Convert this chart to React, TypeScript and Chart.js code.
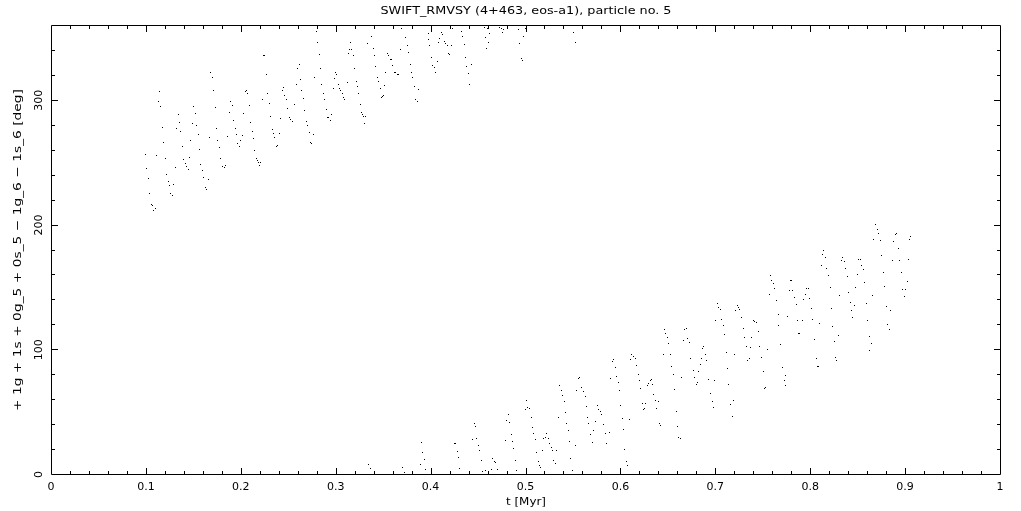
import React, { useEffect, useRef } from "react";
import { Chart, registerables } from "chart.js";

Chart.register(...registerables);

const TITLE = "SWIFT_RMVSY (4+463, eos-a1), particle no. 5";
const X_TITLE = "t [Myr]";
const Y_TITLE = "+ 1g + 1s + 0g_5 + 0s_5 − 1g_6 − 1s_6 [deg]";

const X_MIN = 0;
const X_MAX = 1;
const Y_MIN = 0;
const Y_MAX = 360;
const X_MAJOR_TICKS = [0, 0.1, 0.2, 0.3, 0.4, 0.5, 0.6, 0.7, 0.8, 0.9, 1];
const X_TICK_LABELS = ["0", "0.1", "0.2", "0.3", "0.4", "0.5", "0.6", "0.7", "0.8", "0.9", "1"];
const Y_MAJOR_TICKS = [0, 100, 200, 300];
const Y_TICK_LABELS = ["0", "100", "200", "300"];
const X_MINOR_STEP = 0.02;
const Y_MINOR_STEP = 20;

// upper branch of the wrapped angle (t in Myr, angle in deg)
const upperT = [
  0.0994, 0.1005, 0.1026, 0.1036, 0.1057, 0.1068, 0.1078, 0.1099, 0.111, 0.1131, 0.1142, 0.1159, 0.1173, 0.1184, 0.1205, 0.1215, 0.1233, 0.1247, 0.1264, 0.1278, 0.1289,
  0.131, 0.132, 0.1342, 0.1352, 0.1363, 0.1384, 0.1394, 0.1415, 0.1426, 0.1447, 0.1457, 0.1468, 0.1489, 0.1499, 0.1521, 0.1531, 0.1552, 0.1563, 0.1573, 0.1594, 0.1605, 0.1626, 0.1636, 0.1658,
  0.1668, 0.1679, 0.17, 0.171, 0.1731, 0.1742, 0.1752, 0.1773, 0.1784, 0.1805, 0.1826, 0.1837, 0.1858, 0.1879, 0.1889, 0.191, 0.1921, 0.1942, 0.1953, 0.1963, 0.1984, 0.1995, 0.2016, 0.2026,
  0.2047, 0.2058, 0.2068, 0.209, 0.21, 0.2121, 0.2132, 0.2142, 0.2163, 0.2174, 0.2184, 0.2195, 0.2205,
  0.2227, 0.2237, 0.2248, 0.2269, 0.2279, 0.23, 0.2311, 0.2332, 0.2342, 0.2353, 0.2374, 0.2385, 0.2406, 0.2416,
  0.2437, 0.2448, 0.2458, 0.2479, 0.249, 0.2511, 0.2522, 0.2543, 0.2564, 0.2585, 0.2595, 0.2616, 0.2627, 0.2638, 0.2659, 0.2669, 0.269, 0.2701, 0.2722, 0.2732, 0.2743, 0.2764,
  0.2775, 0.2796, 0.2806, 0.2827, 0.2838, 0.2848, 0.2869, 0.288, 0.2901, 0.2911, 0.2922, 0.2943, 0.2954, 0.2975, 0.2985, 0.2996, 0.3006, 0.3027, 0.3038, 0.3048, 0.307, 0.308, 0.3091, 0.3122,
  0.3133, 0.3143, 0.3154, 0.3164, 0.3185, 0.3196, 0.3217, 0.3228, 0.3238, 0.3259, 0.327, 0.328, 0.3291, 0.3301, 0.3312,
  0.3333, 0.3375, 0.3396, 0.3407, 0.3417, 0.3438, 0.3449, 0.347, 0.348, 0.3491, 0.3501, 0.3512, 0.3523, 0.3544, 0.3554, 0.3575, 0.3586, 0.3596, 0.3617, 0.3628, 0.3649, 0.366,
  0.3681, 0.3691, 0.3733, 0.3754, 0.3765, 0.3786, 0.3797, 0.3807, 0.3828, 0.3839, 0.386, 0.387,
  0.3976, 0.3976, 0.3986, 0.4007, 0.4018, 0.4039, 0.4049, 0.4071, 0.4081, 0.4092, 0.4113, 0.4123, 0.4144, 0.4155, 0.4176, 0.4187, 0.4197, 0.4218,
  0.4208, 0.4229, 0.4323, 0.4334, 0.4355, 0.4366, 0.4376, 0.4397, 0.4408, 0.4429,
  0.4566, 0.4576, 0.4587, 0.4597, 0.4608, 0.4619, 0.4724, 0.4745, 0.4755, 0.4766, 0.4924, 0.4935, 0.4956, 0.4966, 0.4977, 0.4998, 0.5501, 0.5522,
];
const upperAngle = [
  256.3, 245.1, 237.1, 225.0, 216.2, 214.9, 210.9, 213.0, 255.5, 298.8, 306.8, 294.3, 278.0, 265.9, 253.1, 240.3, 234.9, 231.4, 225.0, 223.4, 232.2,
  245.9, 277.1, 288.4, 282.0, 274.7, 262.7, 252.3, 249.1, 246.4, 244.3, 253.9, 267.5, 281.2, 294.8, 289.2, 279.6, 272.3, 260.3, 248.3, 243.5, 237.9, 229.8, 228.2, 236.3,
  269.9, 322.0, 318.0, 307.6, 294.0, 277.1, 267.5, 261.9, 253.1, 246.7, 245.9, 247.5, 270.7, 290.0, 298.8, 295.6, 283.6, 277.1, 272.3, 265.1, 262.7, 267.5, 271.5, 289.2,
  306.8, 307.6, 305.2, 295.6, 282.0, 274.7, 269.1, 259.5, 253.1, 251.5, 249.9, 247.5, 249.9,
  300.4, 335.7, 335.7, 320.4, 305.2, 297.2, 286.8, 276.3, 273.1, 269.9, 262.7, 263.5, 273.1, 285.2,
  307.6, 310.0, 303.6, 300.4, 293.2, 286.0, 284.4, 282.8, 296.4, 312.4, 325.3, 328.5, 316.4, 307.6, 301.2, 291.6, 282.8, 279.6, 273.9, 265.9, 265.1, 272.3,
  318.0, 354.9, 346.1, 336.5, 325.3, 312.4, 305.2, 300.4, 292.4, 286.0, 286.0, 283.6, 288.4, 309.2, 317.2, 322.0, 320.4, 312.4, 309.2, 307.6, 305.2, 302.0, 300.4, 314.0,
  337.3, 340.5, 346.1, 340.5, 335.7, 325.3, 314.8, 310.8, 305.2, 296.4, 290.0, 288.4, 286.8, 281.2, 286.8,
  345.3, 350.9, 341.3, 335.7, 326.9, 318.0, 314.8, 309.2, 302.0, 302.8, 303.6, 311.6, 322.0, 337.3, 335.7, 332.5, 332.5, 327.7, 322.0, 322.0, 320.4, 320.4,
  340.5, 357.3, 350.1, 343.7, 338.1, 328.5, 322.0, 318.0, 310.8, 300.4, 298.8, 308.4,
  353.3, 348.5, 343.7, 334.1, 327.7, 326.1, 322.0, 330.9, 346.1, 349.3, 354.1, 352.5, 346.9, 345.3, 343.7, 337.3, 336.5, 343.7,
  357.3, 357.3, 354.9, 350.9, 344.5, 334.1, 326.9, 321.2, 312.4, 328.5,
  358.1, 350.1, 341.3, 357.3, 346.1, 353.3, 358.1, 357.3, 354.1, 356.5, 356.5, 345.3, 333.3, 331.7, 350.9, 357.3, 353.6, 345.6,
];

// lower branch (angle wrapped past 360 deg)
const lowerT = [
  0.3345, 0.3365, 0.3702, 0.3722, 0.3892, 0.3904, 0.3916, 0.3932, 0.3944,
  0.4249, 0.4261, 0.4281, 0.4293, 0.4305,
  0.4439, 0.4459, 0.4471, 0.4484, 0.4503, 0.4515, 0.4535, 0.4547, 0.4579,
  0.4638, 0.465, 0.467, 0.4686, 0.471,
  0.4785, 0.4801, 0.4817, 0.4833, 0.4849, 0.4868, 0.4876, 0.4892, 0.4904,
  0.4995, 0.5007, 0.5023, 0.5039, 0.5063, 0.5075, 0.5086, 0.5102, 0.5114, 0.5134, 0.5145, 0.5158,
  0.5181, 0.5194, 0.521, 0.5225, 0.5241, 0.5253, 0.5269, 0.528, 0.53, 0.5312, 0.5325,
  0.5345, 0.536, 0.5376, 0.5392, 0.5408, 0.5419, 0.5431, 0.5451, 0.5459, 0.5471, 0.5491, 0.5527,
  0.5538, 0.5558, 0.5574, 0.559, 0.5606, 0.563, 0.5642, 0.5658, 0.5669, 0.5685, 0.5701, 0.5717, 0.5741, 0.5757, 0.5772, 0.5788, 0.5804, 0.582, 0.5844, 0.5856, 0.588,
  0.5896, 0.5916, 0.5932, 0.5947, 0.5963, 0.5975, 0.5991, 0.6003, 0.6019, 0.6035, 0.6046, 0.6066, 0.6074, 0.6098,
  0.6102, 0.6122, 0.6138, 0.6154, 0.617, 0.6186, 0.6201, 0.6217, 0.6233, 0.6245, 0.6257, 0.6269, 0.6285, 0.6296, 0.6312, 0.6324, 0.634, 0.6352, 0.6372, 0.6384, 0.6399, 0.6415, 0.6427,
  0.6455, 0.6463, 0.6478, 0.6494, 0.6511, 0.6523, 0.6538, 0.6558, 0.6566, 0.659, 0.6602, 0.6614, 0.6629, 0.6646,
  0.6662, 0.6678, 0.6693, 0.6709, 0.6725, 0.6741, 0.6768, 0.6784, 0.6797, 0.6812, 0.6828, 0.6844, 0.6856, 0.6867, 0.688, 0.6896, 0.6911,
  0.6927, 0.6951, 0.6966, 0.6979, 0.6991,
  0.7002, 0.7018, 0.7034, 0.7051, 0.7066, 0.7082, 0.7098, 0.7114, 0.713, 0.7141, 0.7161, 0.7177, 0.7193, 0.7201,
  0.7213, 0.7229, 0.7245, 0.726, 0.7276, 0.7292, 0.7308, 0.7324, 0.7339, 0.7356, 0.7372, 0.7384, 0.7399, 0.7415, 0.7431, 0.7451, 0.7471, 0.7487, 0.7503, 0.7523, 0.7534, 0.755,
  0.7566, 0.7582, 0.7597, 0.7613, 0.7629, 0.7645, 0.7661, 0.7669, 0.7689, 0.7712, 0.7725, 0.7741, 0.7741, 0.7757,
  0.7777, 0.7788, 0.7804, 0.7816, 0.7836, 0.7852, 0.7867, 0.7879, 0.7891, 0.7919, 0.7931, 0.7946, 0.7962, 0.7979, 0.7991, 0.8014, 0.8026, 0.8046, 0.8062, 0.8078, 0.809, 0.8101,
  0.8117, 0.8133, 0.8144, 0.8161, 0.8177, 0.8193, 0.8209, 0.8225, 0.8236, 0.8252, 0.8268, 0.8276, 0.83, 0.8312,
  0.8328, 0.8344, 0.8359, 0.8375, 0.8391, 0.8407, 0.8423, 0.8438, 0.8447, 0.8463, 0.8478, 0.8494, 0.851, 0.8526, 0.8542, 0.8557, 0.8573, 0.8589, 0.8605, 0.8621, 0.8629, 0.8645, 0.8661,
  0.8672, 0.8688, 0.8704, 0.8721, 0.8737, 0.8752, 0.8768, 0.8784, 0.88, 0.8816, 0.8832, 0.8847, 0.8867,
  0.8879, 0.8895, 0.8911, 0.8926, 0.8942, 0.8959, 0.8975, 0.8991, 0.9006, 0.9022, 0.9038, 0.905, 0.9058,
];
const lowerAngle = [
  7.8, 4.6, 5.4, 1.6, 7.8, 25.4, 17.4, 11.8, 3.8,
  24.6, 24.6, 18.2, 13.4, 4.6,
  27.8, 40.6, 38.2, 28.6, 23.0, 19.0, 11.0, 2.1, 2.9,
  3.8, 12.6, 10.2, 9.4, 3.8,
  27.0, 43.0, 47.9, 41.4, 31.8, 26.2, 20.6, 11.0, 2.9,
  51.9, 59.1, 53.5, 52.7, 45.5, 37.4, 32.6, 27.8, 17.4, 10.2, 7.0, 5.4,
  19.0, 28.6, 29.4, 32.6, 28.6, 24.6, 21.4, 19.0, 11.0, 8.6, 19.0,
  45.5, 71.1, 67.1, 63.1, 58.3, 49.5, 40.6, 35.0, 26.2, 12.6, 2.9, 23.0,
  67.1, 76.7, 77.5, 69.5, 66.3, 62.0, 54.3, 45.5, 40.6, 31.8, 25.4, 35.0, 42.2, 55.1, 51.9, 50.3, 47.9, 39.8, 32.6, 24.6, 33.4,
  76.7, 89.8, 92.0, 85.5, 78.3, 73.5, 67.1, 55.1, 44.6, 35.8, 19.8, 10.2, 7.0, 43.8,
  92.0, 96.0, 94.4, 92.8, 87.2, 79.9, 75.1, 68.7, 56.7, 51.9, 52.7, 56.7, 71.1, 72.7, 75.1, 75.9, 71.9, 63.9, 59.1, 52.7, 58.3, 40.6, 39.0,
  96.0, 116.0, 112.8, 109.6, 104.8, 96.0, 86.4, 79.9, 67.9, 50.3, 38.2, 29.4, 28.6, 77.5,
  107.2, 116.0, 116.8, 108.8, 105.6, 92.8, 83.1, 77.5, 71.9, 73.5, 82.3, 88.0, 92.8, 100.8, 102.4, 96.0, 91.2,
  75.9, 64.7, 58.3, 53.5, 75.1,
  123.2, 136.9, 133.7, 132.1, 124.0, 119.2, 112.0, 97.6, 84.7, 71.9, 55.9, 46.3, 59.1, 96.0,
  131.3, 135.3, 133.7, 132.1, 125.6, 116.8, 109.6, 102.4, 91.2, 92.8, 101.6, 109.6, 123.2, 122.4, 121.6, 114.4, 102.4, 93.6, 82.3, 68.7, 69.5, 100.0,
  144.1, 159.3, 155.3, 152.9, 148.9, 139.3, 128.0, 119.2, 104.0, 85.5, 75.1, 71.1, 79.1, 126.4,
  147.3, 155.3, 155.3, 147.3, 141.7, 136.1, 123.2, 112.8, 112.8, 123.2, 140.1, 144.1, 148.9, 148.9, 140.9, 132.9, 124.0, 108.0, 92.8, 86.4, 86.4, 120.8,
  167.3, 176.2, 179.4, 173.8, 164.9, 159.3, 149.7, 132.9, 118.4, 106.4, 93.6, 91.2, 111.2, 143.3,
  171.3, 173.8, 170.6, 164.9, 158.5, 145.7, 137.7, 131.3, 125.6, 135.3, 149.7, 160.1, 172.2, 172.2, 167.3, 164.1, 153.7, 136.9, 123.2, 110.4, 99.2, 104.8, 143.3,
  188.2, 200.2, 196.2, 193.0, 187.4, 175.4, 161.7, 150.5, 134.5, 120.0, 116.0, 131.3, 171.3,
  186.6, 192.2, 193.0, 181.0, 171.3, 161.7, 148.1, 142.5, 148.1, 154.5, 172.2, 188.2, 190.6,
];

const FONT = '11px "DejaVu Sans", sans-serif';

function toPoints(ts: number[], as: number[]) {
  return ts.map((t, i) => ({ x: t, y: as[i] }));
}

function drawText(
  ctx: CanvasRenderingContext2D,
  text: string,
  x: number,
  y: number,
  rot: number,
  targetWidth?: number
) {
  ctx.save();
  ctx.translate(x, y);
  ctx.rotate(rot);
  const w = ctx.measureText(text).width;
  if (targetWidth && w > 0) ctx.scale(targetWidth / w, 1);
  ctx.fillText(text, 0, 0);
  ctx.restore();
}

const framePlugin = {
  id: "pgFrame",
  afterDatasetsDraw(chart: any) {
    const ctx: CanvasRenderingContext2D = chart.ctx;
    ctx.save();
    ctx.fillStyle = "#000";
    chart.data.datasets.forEach((_d: any, di: number) => {
      const meta = chart.getDatasetMeta(di);
      meta.data.forEach((el: any) => {
        ctx.fillRect(Math.floor(el.x), Math.floor(el.y), 1, 1);
      });
    });
    ctx.restore();
  },
  afterDraw(chart: any) {
    const ctx: CanvasRenderingContext2D = chart.ctx;
    const xs = chart.scales.x;
    const ys = chart.scales.y;
    const L = Math.round(xs.getPixelForValue(X_MIN));
    const R = Math.round(xs.getPixelForValue(X_MAX));
    const T = Math.round(ys.getPixelForValue(Y_MAX));
    const B = Math.round(ys.getPixelForValue(Y_MIN));
    ctx.save();
    ctx.strokeStyle = "#000";
    ctx.lineWidth = 1;
    ctx.beginPath();
    ctx.rect(L + 0.5, T + 0.5, R - L, B - T);
    const nx = Math.round((X_MAX - X_MIN) / X_MINOR_STEP);
    for (let i = 0; i <= nx; i++) {
      const v = X_MIN + i * X_MINOR_STEP;
      const major = X_MAJOR_TICKS.some((m) => Math.abs(m - v) < 1e-9);
      const len = major ? 6 : 3;
      const px = Math.round(xs.getPixelForValue(v)) + 0.5;
      ctx.moveTo(px, B);
      ctx.lineTo(px, B - len);
      ctx.moveTo(px, T + 1);
      ctx.lineTo(px, T + 1 + len);
    }
    const ny = Math.round((Y_MAX - Y_MIN) / Y_MINOR_STEP);
    for (let i = 0; i <= ny; i++) {
      const v = Y_MIN + i * Y_MINOR_STEP;
      const major = Y_MAJOR_TICKS.some((m) => Math.abs(m - v) < 1e-9);
      const len = major ? 6 : 3;
      const py = Math.round(ys.getPixelForValue(v)) + 0.5;
      ctx.moveTo(L + 1, py);
      ctx.lineTo(L + 1 + len, py);
      ctx.moveTo(R, py);
      ctx.lineTo(R - len, py);
    }
    ctx.stroke();

    ctx.fillStyle = "#000";
    ctx.font = FONT;
    ctx.textBaseline = "alphabetic";
    ctx.textAlign = "center";
    X_MAJOR_TICKS.forEach((v, i) => {
      drawText(ctx, X_TICK_LABELS[i], xs.getPixelForValue(v), B + 16, 0);
    });
    Y_MAJOR_TICKS.forEach((v, i) => {
      drawText(ctx, Y_TICK_LABELS[i], L - 9.5, ys.getPixelForValue(v) + 0.5, -Math.PI / 2);
    });
    const cx = (L + R) / 2 + 0.5;
    const cy = (T + B) / 2 + 0.5;
    drawText(ctx, TITLE, cx, 14, 0, 291);
    drawText(ctx, X_TITLE, cx, 505, 0, 40);
    drawText(ctx, Y_TITLE, 20.5, cy, -Math.PI / 2, 322);
    ctx.restore();
  },
};

export default function App() {
  const ref = useRef<HTMLCanvasElement | null>(null);
  useEffect(() => {
    if (!ref.current) return;
    const chart = new Chart(ref.current, {
      type: "scatter",
      data: {
        datasets: [
          { label: "upper", data: toPoints(upperT, upperAngle), pointRadius: 0, backgroundColor: "#000" },
          { label: "lower", data: toPoints(lowerT, lowerAngle), pointRadius: 0, backgroundColor: "#000" },
        ],
      },
      options: {
        animation: false,
        responsive: false,
        devicePixelRatio: 1,
        events: [],
        layout: { padding: { left: 51, right: 21, top: 25, bottom: 37 } },
        scales: {
          x: { type: "linear", min: X_MIN, max: X_MAX, display: false },
          y: { type: "linear", min: Y_MIN, max: Y_MAX, display: false },
        },
        plugins: { legend: { display: false }, tooltip: { enabled: false }, title: { display: false } },
      },
      plugins: [framePlugin],
    });
    return () => chart.destroy();
  }, []);
  return (
    <div style={{ position: "fixed", left: 0, top: 0, width: 1021, height: 511, background: "#fff" }}>
      <canvas ref={ref} width={1021} height={511} style={{ display: "block", width: 1021, height: 511 }} />
    </div>
  );
}
